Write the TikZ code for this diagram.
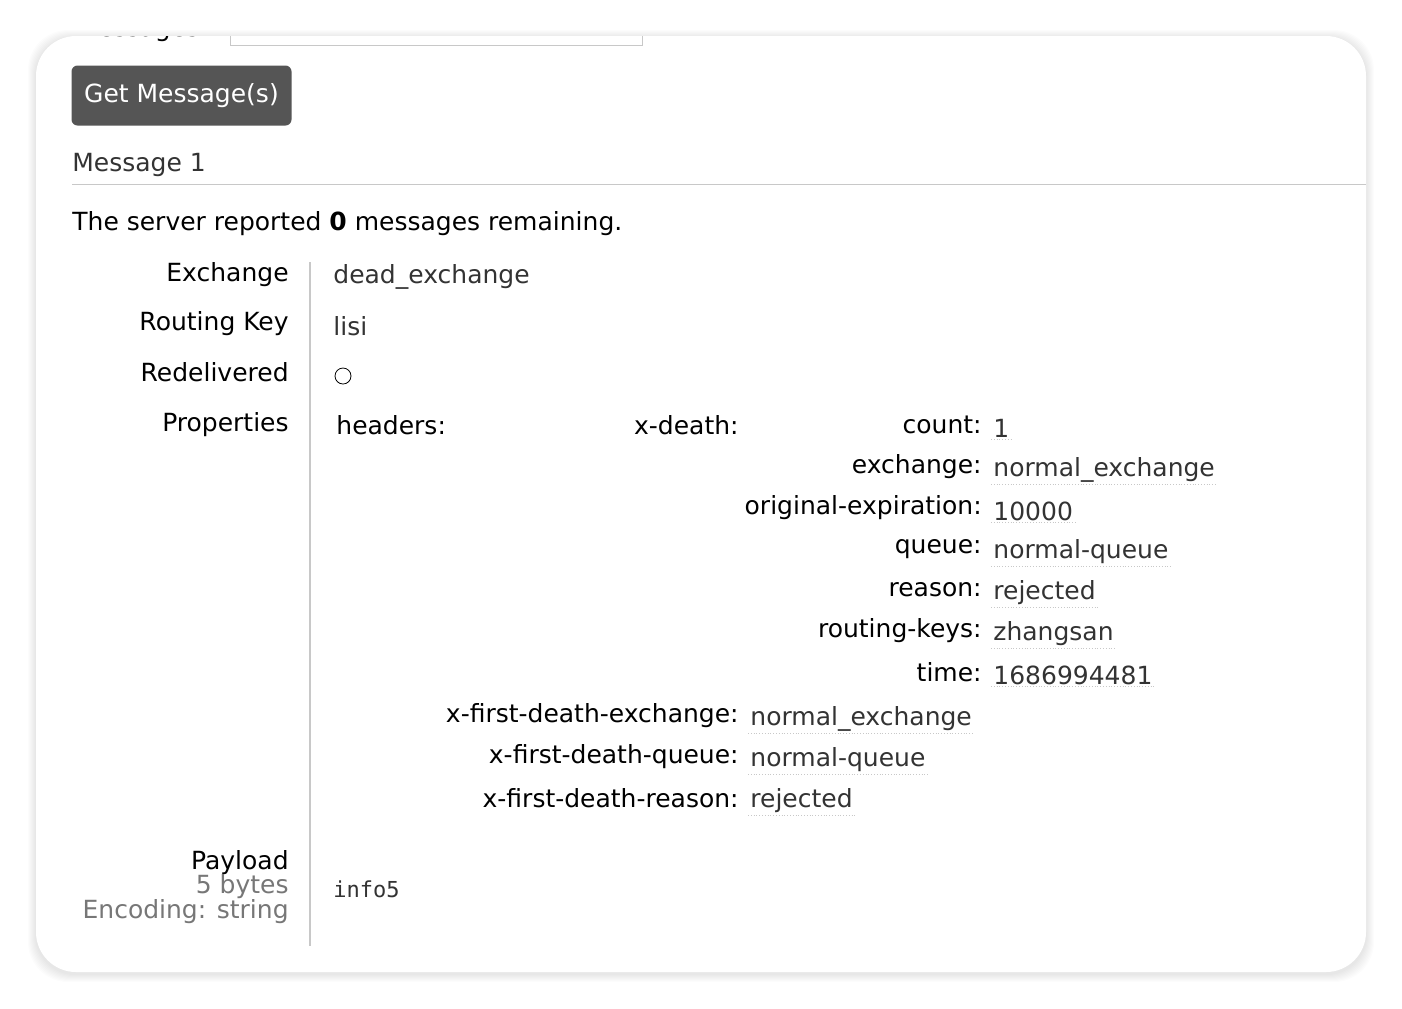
\documentclass[tikz,border=0pt]{standalone}
\usepackage{fontspec}
\setmainfont{DejaVu Sans}
\setmonofont{DejaVu Sans Mono}
\definecolor{btngray}{HTML}{555555}
\definecolor{rulegray}{HTML}{C8C8C8}
\definecolor{txtgray}{HTML}{777777}
\definecolor{valcol}{HTML}{333333}
\tikzset{
  key/.style={anchor=east,font=\fontsize{12.5}{14}\selectfont,inner sep=0pt},
  val/.style={anchor=west,font=\fontsize{12.5}{14}\selectfont,text=valcol,inner sep=1pt},
  dval/.style={val,append after command={(\tikzlastnode.south west) edge[draw=rulegray,densely dotted] (\tikzlastnode.south east)}},
  plain/.style={anchor=west,font=\fontsize{12.5}{14}\selectfont,inner sep=0pt}
}
\begin{document}
\begin{tikzpicture}[x=0.5pt,y=-0.5pt]
\useasboundingbox (0,0) rectangle (1402,1008);
\fill[white] (0,0) rectangle (1402,1008);
% card shadow and card
\foreach \i in {1,...,8}
  \fill[black,opacity=0.012,rounded corners=20pt] ({36-\i},{38-\i}) rectangle ({1366+\i},{974+\i});
\fill[white,rounded corners=20pt] (36,36) rectangle (1366,972);
\begin{scope}
\clip[rounded corners=20pt] (36,36) rectangle (1366,972);
\node[key] (msgs) at (208,30) {Messages:};
\draw[rulegray] (230,20) rectangle (642,45);
\end{scope}
% button
\node[fill=btngray,rounded corners=3pt,text=white,minimum width=110pt,minimum height=30pt,
  font=\fontsize{12.5}{14}\selectfont] (btn) at (181.5,95.5) {Get Message(s)};
\node[plain,text=valcol] (m1) at (72,165) {Message 1};
\draw[rulegray] (72,184) -- (1366,184);
\node[plain] (srv) at (72,224) {The server reported \textbf{0} messages remaining.};
\draw[rulegray,line width=1pt] (310,262) -- (310,946);
% left labels
\node[key] (kex) at (289,275) {Exchange};
\node[key] (krk) at (289,324) {Routing Key};
\node[key] (krd) at (289,372) {Redelivered};
\node[key] (kpr) at (289,425) {Properties};
\node[key] (kpl) at (289,863) {Payload};
\node[key,text=txtgray] (kby) at (289,887) {5 bytes};
\node[key,text=txtgray] (ken) at (289,912) {Encoding: string};
% values
\node[val] (vex) at (331,277) {dead\_exchange};
\node[val] (vrk) at (331,326) {lisi};
\draw[black] (343,376) circle (8);
\node[plain] (hdr) at (336,425) {headers:};
\node[key] (xd) at (739,425) {x-death:};
\node[val,font=\ttfamily\fontsize{11}{13}\selectfont] (vpl) at (331,889) {info5};
% x-death entries
\foreach \k/\v/\y in {count/1/425,exchange/normal\_exchange/467,original-expiration/10000/508,
  queue/normal-queue/549,reason/rejected/590,routing-keys/zhangsan/631,time/1686994481/672}
{
  \node[key] (k\y) at (982,\y) {\k:};
  \node[dval] (v\y) at (991,{\y+3}) {\v};
}
% first death entries
\foreach \k/\v/\y in {x-first-death-exchange/normal\_exchange/716,
  x-first-death-queue/normal-queue/757,x-first-death-reason/rejected/798}
{
  \node[key] (f\y) at (739,\y) {\k:};
  \node[dval] (w\y) at (748,{\y+3}) {\v};
}
\end{tikzpicture}
\end{document}
